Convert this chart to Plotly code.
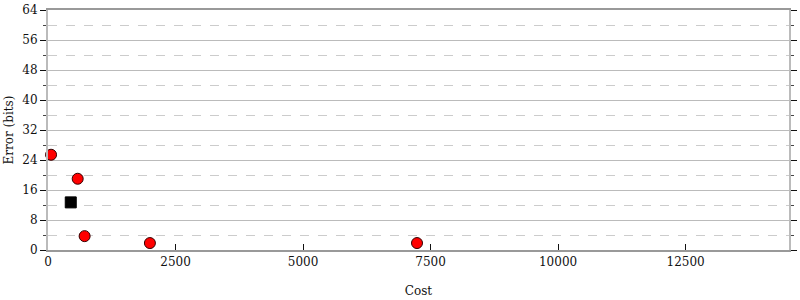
import plotly.graph_objects as go

red_cost = [60, 582, 718, 1998, 7234]
red_err = [25.4, 19.0, 3.7, 1.85, 1.85]
black_cost = [446]
black_err = [12.7]
x_ticks = [0, 2500, 5000, 7500, 10000, 12500]
y_ticks = [0, 8, 16, 24, 32, 40, 48, 56, 64]

font = dict(family="DejaVu Serif", size=12, color="#111")

fig = go.Figure()
fig.add_trace(go.Scatter(x=red_cost, y=red_err, mode="markers",
                         marker=dict(symbol="circle", size=11, color="red",
                                     line=dict(color="#300", width=1)),
                         cliponaxis=False, showlegend=False))
fig.add_trace(go.Scatter(x=black_cost, y=black_err, mode="markers",
                         marker=dict(symbol="square", size=11, color="black",
                                     line=dict(color="black", width=1)),
                         cliponaxis=False, showlegend=False))

fig.update_layout(
    width=800, height=300,
    margin=dict(l=48, r=3, t=8, b=50),
    plot_bgcolor="white", paper_bgcolor="white",
    font=font,
    xaxis=dict(range=[0, 14527], tickvals=x_ticks, ticktext=[str(v) for v in x_ticks],
               ticks="inside", ticklen=6, tickcolor="#111", tickwidth=1,
               showgrid=False, zeroline=False,
               showline=True, linecolor="#999", linewidth=2, mirror=True,
               title=dict(text="Cost", standoff=18, font=font)),
    yaxis=dict(range=[0, 64], tickvals=y_ticks, ticktext=[str(v) for v in y_ticks],
               ticks="outside", ticklen=6, tickcolor="#111", tickwidth=1,
               showgrid=True, gridcolor="#bbb", gridwidth=1,
               zeroline=False,
               showline=True, linecolor="#bbb", linewidth=2, mirror="ticks",
               minor=dict(dtick=4, tick0=0, showgrid=True, gridcolor="#ccc",
                          griddash="dash", ticks="outside", ticklen=3, tickcolor="#444"),
               title=dict(text="Error (bits)", standoff=6, font=font)),
)

fig.write_html("out.html")
